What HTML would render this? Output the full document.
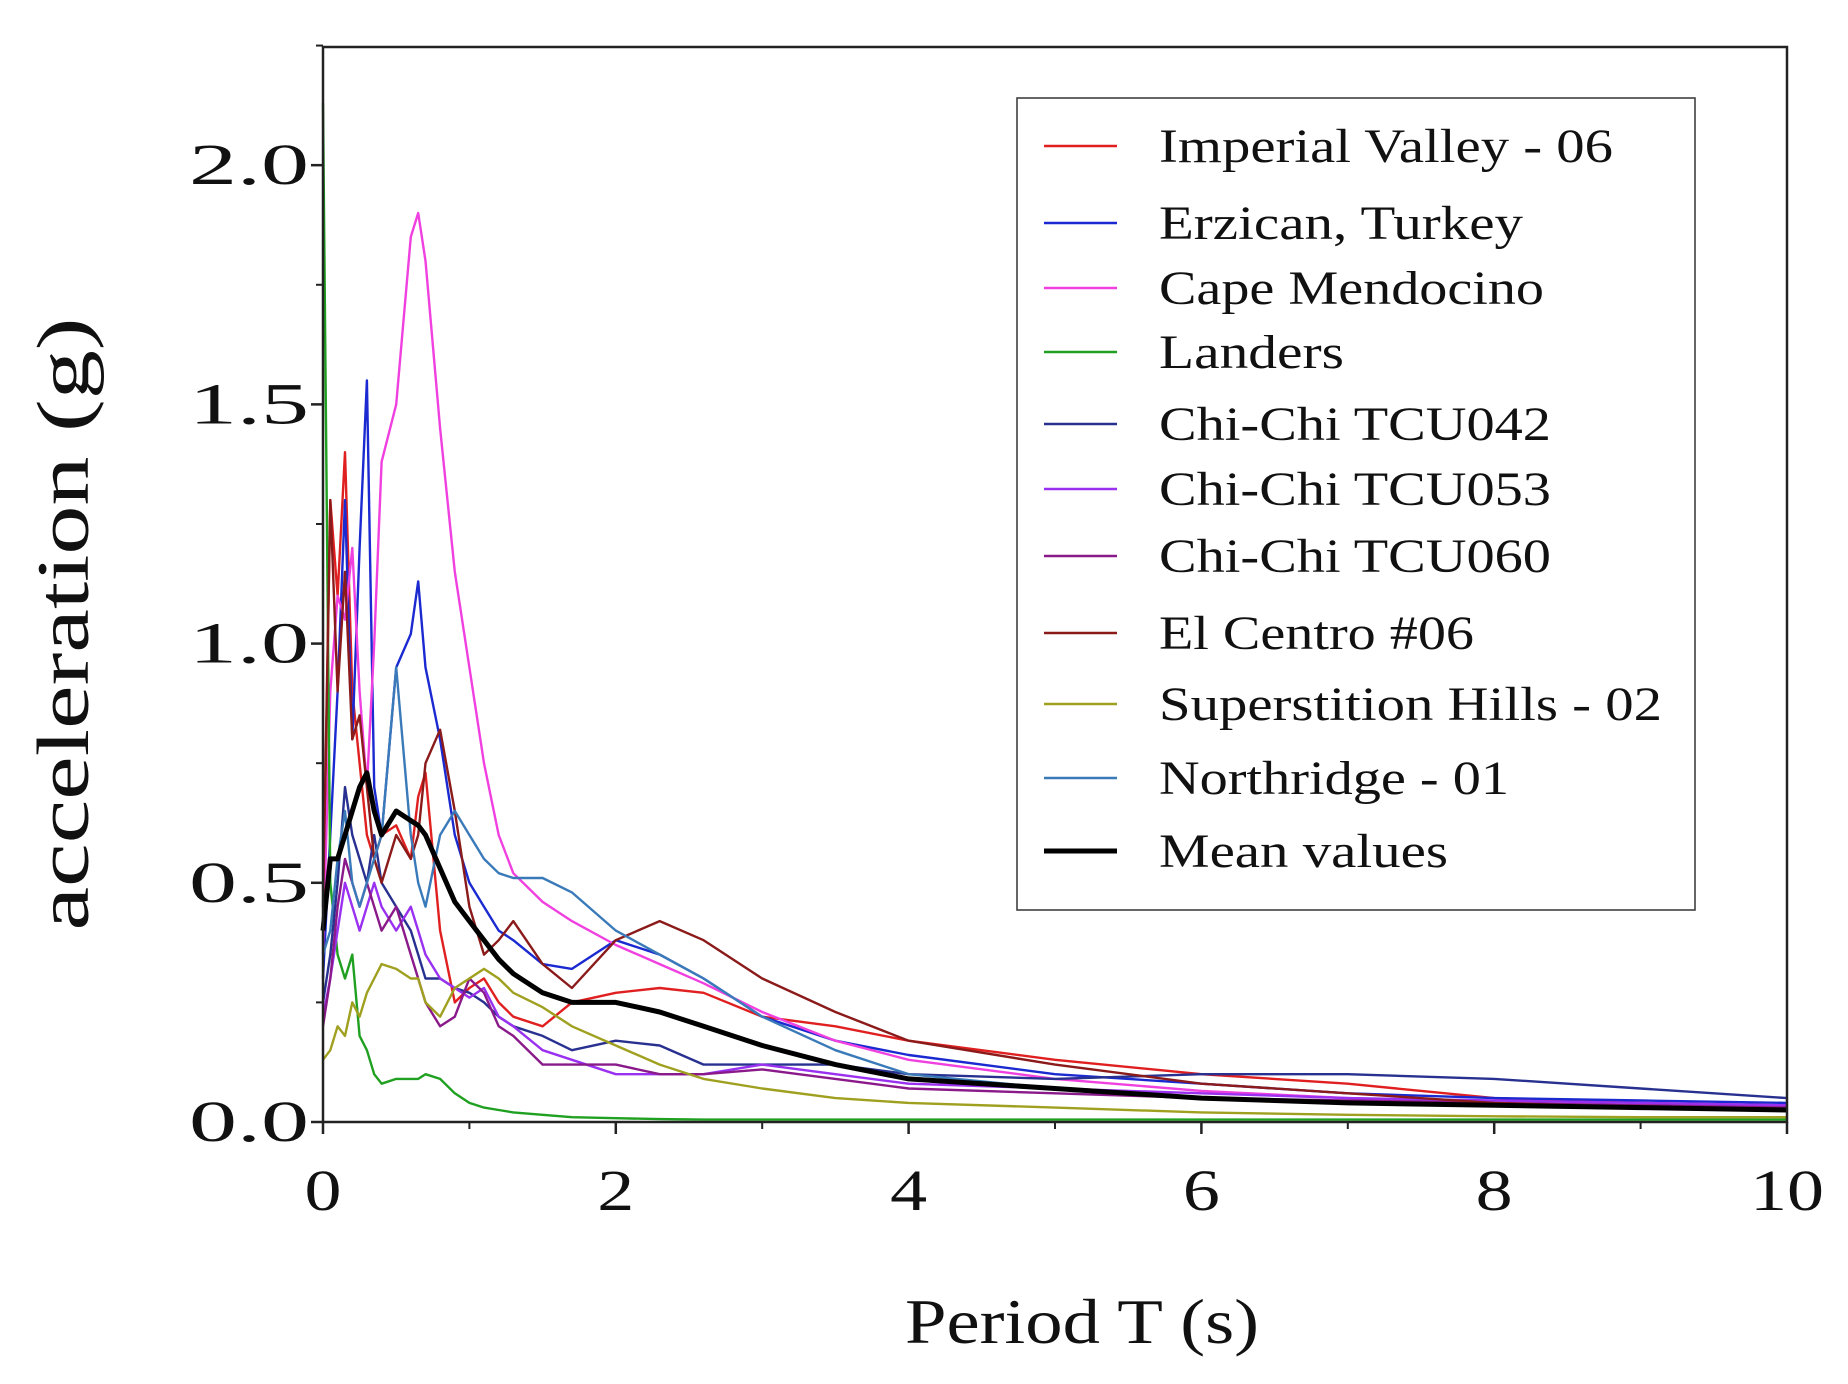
<!DOCTYPE html>
<html><head><meta charset="utf-8">
<style>
html,body{margin:0;padding:0;background:#fff;}
svg{display:block;}
text{font-family:"Liberation Serif",serif;fill:#111;}
</style></head>
<body>
<svg id="chart" width="1848" height="1384" viewBox="0 0 1848 1384" xmlns="http://www.w3.org/2000/svg">
  <rect x="0" y="0" width="1848" height="1384" fill="#fff"/>
  <g id="series"></g>
  <rect x="323" y="47" width="1464" height="1075" fill="none" stroke="#222" stroke-width="2.5"/>
  <g id="axes"></g>
  <text x="88" y="624" font-size="74" text-anchor="middle" textLength="613" lengthAdjust="spacingAndGlyphs" transform="rotate(-90 88 624)">acceleration (g)</text>
  <text x="1082" y="1343" font-size="64" text-anchor="middle" textLength="354" lengthAdjust="spacingAndGlyphs">Period T (s)</text>
  <g id="legend">
    <rect x="1017" y="98" width="678" height="812" fill="#fff" stroke="#333" stroke-width="1.5"/>
  </g>
</svg>
<script>
const periods = [0,0.05,0.1,0.15,0.2,0.25,0.3,0.35,0.4,0.5,0.6,0.65,0.7,0.8,0.9,1.0,1.1,1.2,1.3,1.5,1.7,2.0,2.3,2.6,3.0,3.5,4,5,6,7,8,9,10];
const seriesNames = ["Imperial Valley - 06","Erzican, Turkey","Cape Mendocino","Landers","Chi-Chi TCU042","Chi-Chi TCU053","Chi-Chi TCU060","El Centro #06","Superstition Hills - 02","Northridge - 01","Mean values"];
const imperialValley = [0.4,1.3,1.1,1.4,0.9,0.75,0.6,0.55,0.6,0.62,0.55,0.68,0.73,0.4,0.25,0.28,0.3,0.25,0.22,0.2,0.25,0.27,0.28,0.27,0.22,0.2,0.17,0.13,0.1,0.08,0.05,0.04,0.035];
const erzican = [0.3,0.6,0.9,1.3,0.8,1.2,1.55,0.7,0.6,0.95,1.02,1.13,0.95,0.8,0.6,0.5,0.45,0.4,0.38,0.33,0.32,0.38,0.35,0.3,0.22,0.17,0.14,0.1,0.08,0.06,0.05,0.045,0.04];
const capeMendocino = [0.35,0.9,1.1,1.05,1.2,0.9,0.7,1.0,1.38,1.5,1.85,1.9,1.8,1.45,1.15,0.95,0.75,0.6,0.52,0.46,0.42,0.37,0.33,0.29,0.23,0.17,0.13,0.09,0.065,0.05,0.04,0.035,0.03];
const landers = [2.13,0.5,0.35,0.3,0.35,0.18,0.15,0.1,0.08,0.09,0.09,0.09,0.1,0.09,0.06,0.04,0.03,0.025,0.02,0.015,0.01,0.008,0.006,0.005,0.005,0.005,0.005,0.005,0.005,0.005,0.005,0.005,0.005];
const tcu042 = [0.25,0.35,0.5,0.7,0.6,0.55,0.5,0.6,0.5,0.45,0.4,0.35,0.3,0.3,0.28,0.27,0.25,0.22,0.2,0.18,0.15,0.17,0.16,0.12,0.12,0.12,0.1,0.09,0.1,0.1,0.09,0.07,0.05];
const tcu053 = [0.22,0.3,0.4,0.5,0.45,0.4,0.45,0.5,0.45,0.4,0.45,0.4,0.35,0.3,0.28,0.26,0.28,0.22,0.2,0.15,0.13,0.1,0.1,0.1,0.12,0.1,0.08,0.07,0.06,0.05,0.045,0.04,0.035];
const tcu060 = [0.2,0.3,0.45,0.55,0.5,0.45,0.5,0.45,0.4,0.45,0.35,0.3,0.25,0.2,0.22,0.3,0.27,0.2,0.18,0.12,0.12,0.12,0.1,0.1,0.11,0.09,0.07,0.06,0.05,0.045,0.04,0.035,0.03];
const elCentro = [0.45,1.3,0.9,1.15,0.8,0.85,0.7,0.55,0.5,0.6,0.55,0.6,0.75,0.82,0.65,0.45,0.35,0.38,0.42,0.33,0.28,0.38,0.42,0.38,0.3,0.23,0.17,0.12,0.08,0.06,0.04,0.03,0.025];
const superstition = [0.13,0.15,0.2,0.18,0.25,0.22,0.27,0.3,0.33,0.32,0.3,0.3,0.25,0.22,0.28,0.3,0.32,0.3,0.27,0.24,0.2,0.16,0.12,0.09,0.07,0.05,0.04,0.03,0.02,0.015,0.012,0.01,0.01];
const northridge = [0.35,0.4,0.55,0.65,0.5,0.45,0.5,0.55,0.6,0.95,0.6,0.5,0.45,0.6,0.65,0.6,0.55,0.52,0.51,0.51,0.48,0.4,0.35,0.3,0.22,0.15,0.1,0.07,0.05,0.04,0.035,0.03,0.025];
const meanValues = [0.4,0.55,0.55,0.6,0.65,0.7,0.73,0.65,0.6,0.65,0.63,0.62,0.6,0.53,0.46,0.42,0.38,0.34,0.31,0.27,0.25,0.25,0.23,0.2,0.16,0.12,0.09,0.07,0.05,0.04,0.035,0.03,0.025];
const seriesColors = ["#e02020","#1a2ad0","#f040e0","#20a020","#283090","#9a30f0","#8a1a8a","#8b1a1a","#a0a020","#3a7ab8","#000000"];
const xTicks = [0,2,4,6,8,10];
const xTickLabels = ["0","2","4","6","8","10"];
const yTicks = [0,0.5,1.0,1.5,2.0];
const yTickLabels = ["0.0","0.5","1.0","1.5","2.0"];

const NS = "http://www.w3.org/2000/svg";
const X0 = 323, X1 = 1787, Y0 = 1122, YTOP = 47;
const xScale = t => X0 + (t - 0) / 10 * (X1 - X0);
const yScale = v => Y0 - v / 2.247 * (Y0 - YTOP);
function mk(tag, attrs, parent){const e=document.createElementNS(NS,tag);for(const k in attrs)e.setAttribute(k,attrs[k]);parent.appendChild(e);return e;}

const allSeries = [imperialValley,erzican,capeMendocino,landers,tcu042,tcu053,tcu060,elCentro,superstition,northridge,meanValues];
const sg = document.getElementById('series');
allSeries.forEach((vals,i)=>{
  const d = vals.map((v,j)=>(j?'L':'M')+xScale(periods[j]).toFixed(1)+','+yScale(v).toFixed(1)).join(' ');
  const p = mk('path',{d:d,fill:'none',stroke:seriesColors[i],'stroke-width':i===10?5:2.4,'stroke-linejoin':'round'},sg);
  
  
});

const ag = document.getElementById('axes');
xTicks.forEach((t,i)=>{
  const x = xScale(t);
  const tk = mk('line',{x1:x,y1:Y0,x2:x,y2:Y0+12,stroke:'#222','stroke-width':2.5},ag);
  
  
  const lb = mk('text',{x:x,y:1210,'font-size':58,'text-anchor':'middle',textLength:xTickLabels[i].length*37,lengthAdjust:'spacingAndGlyphs'},ag);
  lb.textContent = xTickLabels[i];
  
  
});
[1,3,5,7,9].forEach(t=>{
  const x = xScale(t);
  const tk = mk('line',{x1:x,y1:Y0,x2:x,y2:Y0+7,stroke:'#222','stroke-width':2},ag);
  
  
});
yTicks.forEach((v,i)=>{
  const y = yScale(v);
  const tk = mk('line',{x1:X0-12,y1:y,x2:X0,y2:y,stroke:'#222','stroke-width':2.5},ag);
  
  
  const lb = mk('text',{x:309,y:y+19,'font-size':58,'text-anchor':'end',textLength:120,lengthAdjust:'spacingAndGlyphs'},ag);
  lb.textContent = yTickLabels[i];
  
  
});
[0.25,0.75,1.25,1.75,2.25].forEach(v=>{
  const y = yScale(v);
  const tk = mk('line',{x1:X0-7,y1:y,x2:X0,y2:y,stroke:'#222','stroke-width':2},ag);
  
  
});

const lg = document.getElementById('legend');
const legendY = [146,223,288,352,424,489,556,633,704,778,851];
const legendTextWidths = [454,364,385,185,392,392,392,315,503,350,289];
seriesNames.forEach((n,i)=>{
  const y = legendY[i];
  const ln = mk('line',{x1:1044,y1:y,x2:1117,y2:y,stroke:seriesColors[i],'stroke-width':i===10?5:2.4},lg);
  
  
  const tx = mk('text',{x:1159,y:y+16,'font-size':48,textLength:legendTextWidths[i],lengthAdjust:'spacingAndGlyphs'},lg);
  tx.textContent = n;
  
  
});
</script>
</body></html>
